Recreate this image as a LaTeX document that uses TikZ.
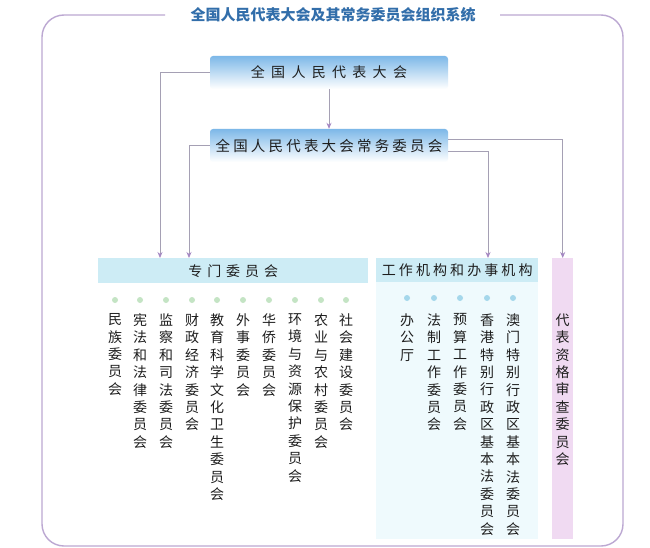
\documentclass[tikz,border=0pt]{standalone}
\usepackage{fontspec}
\newfontfamily\cjk{Noto Sans CJK SC}
\newfontfamily\cjkwideA[LetterSpace=45]{Noto Sans CJK SC}
\newfontfamily\cjkwideB[LetterSpace=22]{Noto Sans CJK SC}
\newfontfamily\cjkwideC[LetterSpace=35]{Noto Sans CJK SC}
\usetikzlibrary{arrows.meta}
\definecolor{framec}{RGB}{188,168,210}
\definecolor{titlec}{RGB}{50,110,170}
\definecolor{boxblue}{RGB}{125,184,232}
\definecolor{boxmid}{RGB}{180,216,245}
\definecolor{linec}{RGB}{165,160,180}
\definecolor{arrowc}{RGB}{165,135,195}
\definecolor{barc}{RGB}{205,236,245}
\definecolor{panelc}{RGB}{239,250,253}
\definecolor{pinkc}{RGB}{240,218,242}
\definecolor{greendot}{RGB}{196,228,196}
\definecolor{bluedot}{RGB}{165,215,235}
\definecolor{textc}{RGB}{30,30,30}
\tikzset{
  bigbox/.style={rectangle, rounded corners=3pt, top color=boxblue, middle color=boxmid, bottom color=white,
    minimum width=238pt, minimum height=33pt, inner sep=0pt, text=textc},
  barbox/.style={rectangle, fill=barc, inner sep=0pt, anchor=north west, text=textc},
  conn/.style={draw=linec, line width=0.8pt, -{Stealth[length=6pt,width=5pt,color=arrowc,fill=arrowc]}},
  vt/.style={align=center, inner sep=0pt, anchor=north, text=textc,
    font=\cjk\fontsize{14}{17.4}\selectfont},
  gdot/.style={circle, fill=greendot, minimum size=6pt, inner sep=0pt},
  bdot/.style={circle, fill=bluedot, minimum size=6pt, inner sep=0pt},
  framepath/.style={draw=framec, line width=1.4pt, rounded corners=22pt}
}
\begin{document}
\begin{tikzpicture}[x=1pt,y=-1pt]
\useasboundingbox[fill=white] (0,0) rectangle (650,548);
% frame
\draw[framepath] (165,15) -- (42,15) -- (42,546) -- (623,546) -- (623,15) -- (500,15);
\node[font=\cjk\bfseries\fontsize{15}{18}\selectfont, text=titlec] (title) at (333,15) {全国人民代表大会及其常务委员会组织系统};
% top boxes
\node[bigbox] (b1) at (329,72.5) {\cjkwideA\fontsize{14}{17}\selectfont 全国人民代表大会};
\node[bigbox] (b2) at (329,145.5) {\cjkwideB\fontsize{14.5}{17}\selectfont 全国人民代表大会常务委员会};
% panels and bars
\node[barbox, minimum width=270pt, minimum height=25pt] (zm) at (98,258) {\cjkwideC\fontsize{14}{17}\selectfont 专门委员会};
\node[barbox, minimum width=162pt, minimum height=24pt] (wb) at (376,258) {\cjkwideB\fontsize{14}{17}\selectfont 工作机构和办事机构};
\node[rectangle, fill=panelc, inner sep=0pt, anchor=north west, minimum width=162pt, minimum height=257pt] (wp) at (376,282) {};
\node[rectangle, fill=pinkc, inner sep=0pt, anchor=north west, minimum width=21pt, minimum height=281pt] (dz) at (552,258) {};
% connectors
\draw[conn] (b1.south) -- (b2.north);
\draw[conn] (b1.west) -| ([xshift=62pt]zm.north west);
\draw[conn] (b2.west) -| ([xshift=91pt]zm.north west);
\draw[conn] ([yshift=6pt]b2.east) -| (dz.north);
\draw[conn] ([yshift=-6pt]b2.east) -| ([xshift=112pt]wb.north west);
% specialised committees
\foreach \x [count=\i] in {115,140,166,192,217,243,269,295,321,346} {
  \node[gdot] (gd\i) at (\x,300) {};
}
\node[vt] (s1) at (115,313.5) {民\\族\\委\\员\\会};
\node[vt] (s2) at (140,313.5) {宪\\法\\和\\法\\律\\委\\员\\会};
\node[vt] (s3) at (166,313.5) {监\\察\\和\\司\\法\\委\\员\\会};
\node[vt] (s4) at (192,313.5) {财\\政\\经\\济\\委\\员\\会};
\node[vt] (s5) at (217,313.5) {教\\育\\科\\学\\文\\化\\卫\\生\\委\\员\\会};
\node[vt] (s6) at (243,313.5) {外\\事\\委\\员\\会};
\node[vt] (s7) at (269,313.5) {华\\侨\\委\\员\\会};
\node[vt] (s8) at (295,313.5) {环\\境\\与\\资\\源\\保\\护\\委\\员\\会};
\node[vt] (s9) at (321,313.5) {农\\业\\与\\农\\村\\委\\员\\会};
\node[vt] (s10) at (346,313.5) {社\\会\\建\\设\\委\\员\\会};
% working bodies
\foreach \x [count=\i] in {407,434,460,487,513} {
  \node[bdot] (bd\i) at (\x,298) {};
}
\node[vt] (w1) at (407,313.5) {办\\公\\厅};
\node[vt] (w2) at (434,313.5) {法\\制\\工\\作\\委\\员\\会};
\node[vt] (w3) at (460,313.5) {预\\算\\工\\作\\委\\员\\会};
\node[vt] (w4) at (487,313.5) {香\\港\\特\\别\\行\\政\\区\\基\\本\\法\\委\\员\\会};
\node[vt] (w5) at (513,313.5) {澳\\门\\特\\别\\行\\政\\区\\基\\本\\法\\委\\员\\会};
% credentials committee
\node[vt] (dzt) at (562.5,313.5) {代\\表\\资\\格\\审\\查\\委\\员\\会};
\end{tikzpicture}
\end{document}
